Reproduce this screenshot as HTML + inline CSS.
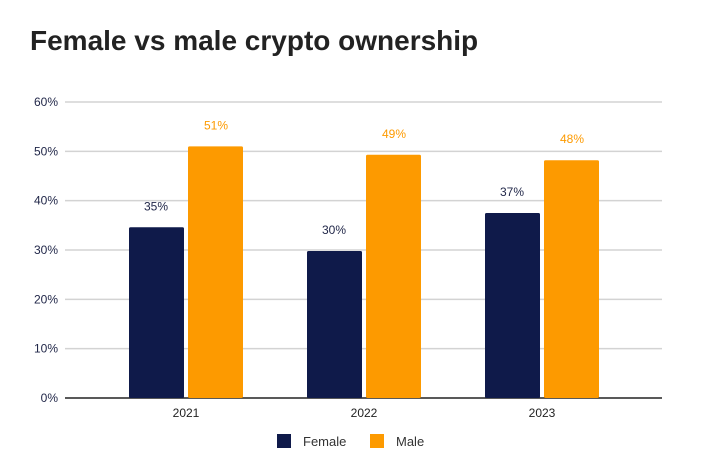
<!DOCTYPE html>
<html><head><meta charset="utf-8"><style>
body{margin:0;background:#fff;width:711px;height:467px;overflow:hidden;font-family:"Liberation Sans",sans-serif}
</style></head><body>
<svg width="711" height="467" xmlns="http://www.w3.org/2000/svg">
<text x="30" y="50" font-size="28" font-weight="bold" fill="#222">Female vs male crypto ownership</text>
<g id="grid"></g><g id="bars"></g>
<g>
<rect x="277" y="434" width="14" height="14" fill="#0f1a4a"/>
<text x="303" y="446" font-size="13" fill="#333">Female</text>
<rect x="370" y="434" width="14" height="14" fill="#fd9a00"/>
<text x="396" y="446" font-size="13" fill="#333">Male</text>
</g>
</svg>
<script>
const categories=["2021","2022","2023"];
const female=[34.6,29.8,37.5];
const male=[51,49.3,48.2];
const femaleLabels=["35%","30%","37%"];
const maleLabels=["51%","49%","48%"];
const yTicks=[0,10,20,30,40,50,60];
const NS="http://www.w3.org/2000/svg";
const x0=65,x1=662,yb=398,yt=102,ymax=60;
const y=v=>yb-(v/ymax)*(yb-yt);
const cx=i=>186+178*i;
function mk(t,a,p){const e=document.createElementNS(NS,t);for(const k in a)e.setAttribute(k,a[k]);p.appendChild(e);return e;}
const g=document.getElementById('grid'),b=document.getElementById('bars');
yTicks.forEach(v=>{
  const l=mk('line',{x1:x0,x2:x1,y1:y(v),y2:y(v),stroke:v===0?'#222':'#d3d3d3','stroke-width':1.5},g);
  
  
  const t=mk('text',{x:x0-7,y:y(v)+4,'text-anchor':'end','font-size':12,fill:'#1f2547'},g);
  t.textContent=v+'%';
  
  
});
categories.forEach((c,i)=>{
  const c0=cx(i);
  const rf=mk('rect',{x:c0-57,y:y(female[i]),width:55,height:yb-y(female[i]),fill:'#0f1a4a',rx:1.5},b);
  
  
  const rm=mk('rect',{x:c0+2,y:y(male[i]),width:55,height:yb-y(male[i]),fill:'#fd9a00',rx:1.5},b);
  
  
  const lf=mk('text',{x:c0-30,y:y(female[i])-17,'text-anchor':'middle','font-size':12,fill:'#1f2547'},b);
  lf.textContent=femaleLabels[i];
  
  
  const lm=mk('text',{x:c0+30,y:y(male[i])-17,'text-anchor':'middle','font-size':12,fill:'#fd9a00'},b);
  lm.textContent=maleLabels[i];
  
  
  const xt=mk('text',{x:c0,y:417,'text-anchor':'middle','font-size':12,fill:'#222'},b);
  xt.textContent=c;
  
  
});
</script>
</body></html>
